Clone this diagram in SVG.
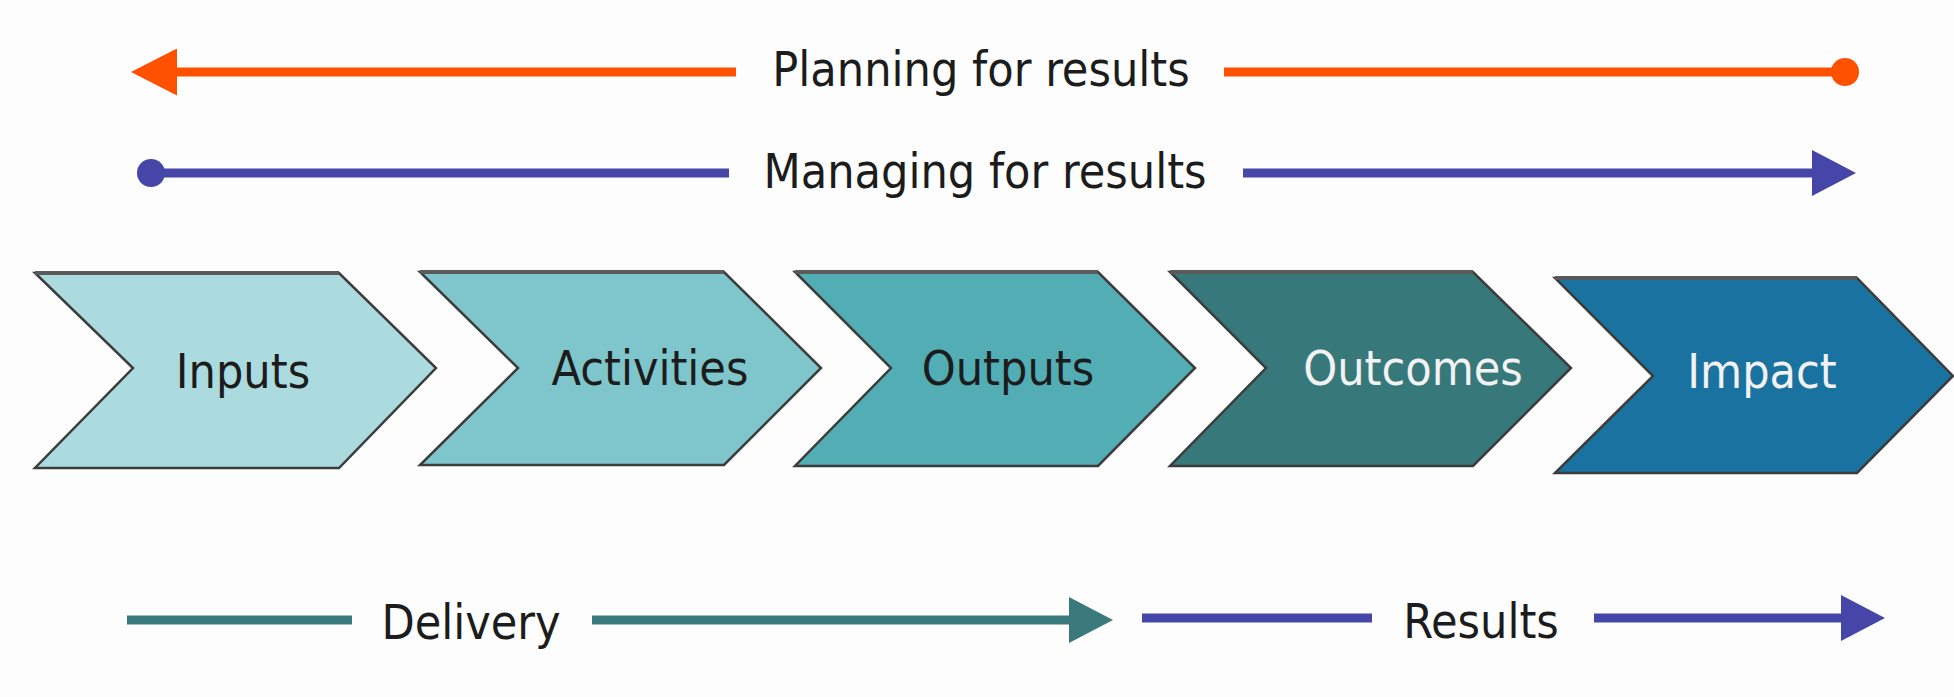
<svg xmlns="http://www.w3.org/2000/svg" width="1954" height="697" viewBox="0 0 1954 697">
<defs>
<style>
.lbl{font-family:"DejaVu Sans Condensed","DejaVu Sans","Liberation Sans",sans-serif;font-stretch:condensed;font-size:48px;text-anchor:middle}
.dark{fill:#1c1c1c}
.light{fill:#f2f2f2}
.chev{stroke:#3c3c3c;stroke-width:2.5;stroke-linejoin:miter}
.edge{stroke:#5a5a5a;stroke-width:4;fill:none}
.ln{fill:none;stroke-width:9}
</style>
<marker id="arOrange" markerUnits="userSpaceOnUse" viewBox="0 0 46 47" refX="0" refY="23.5" markerWidth="46" markerHeight="47" orient="auto"><path d="M0,0 L46,23.5 L0,47 Z" fill="#ff5000"/></marker>
<marker id="arBlue" markerUnits="userSpaceOnUse" viewBox="0 0 44 46" refX="0" refY="23" markerWidth="44" markerHeight="46" orient="auto"><path d="M0,0 L44,23 L0,46 Z" fill="#4646a8"/></marker>
<marker id="arTeal" markerUnits="userSpaceOnUse" viewBox="0 0 44 46" refX="0" refY="23" markerWidth="44" markerHeight="46" orient="auto"><path d="M0,0 L44,23 L0,46 Z" fill="#3a7a7c"/></marker>
<marker id="dotOrange" markerUnits="userSpaceOnUse" viewBox="0 0 28 28" refX="14" refY="14" markerWidth="28" markerHeight="28"><circle cx="14" cy="14" r="14" fill="#ff5000"/></marker>
<marker id="dotBlue" markerUnits="userSpaceOnUse" viewBox="0 0 28 28" refX="14" refY="14" markerWidth="28" markerHeight="28"><circle cx="14" cy="14" r="14" fill="#4646a8"/></marker>
</defs>
<rect width="1954" height="697" fill="#fdfdfd"/>

<g id="connectors">
<path class="ln" stroke="#ff5000" d="M736,72 L177,72" marker-end="url(#arOrange)"/>
<path class="ln" stroke="#ff5000" d="M1224,72 L1845,72" marker-end="url(#dotOrange)"/>
<path class="ln" stroke="#4646a8" d="M151,173 L729,173" marker-start="url(#dotBlue)"/>
<path class="ln" stroke="#4646a8" d="M1243,173 L1812,173" marker-end="url(#arBlue)"/>
<path class="ln" stroke="#3a7a7c" d="M127,620 L352,620"/>
<path class="ln" stroke="#3a7a7c" d="M592,620 L1069,620" marker-end="url(#arTeal)"/>
<path class="ln" stroke="#4646a8" d="M1142,618 L1372,618"/>
<path class="ln" stroke="#4646a8" d="M1594,618 L1841,618" marker-end="url(#arBlue)"/>
</g>

<g id="line-labels">
<text class="lbl dark" x="981" y="86">Planning for results</text>
<text class="lbl dark" x="985" y="188">Managing for results</text>
<text class="lbl dark" x="471" y="639">Delivery</text>
<text class="lbl dark" x="1481" y="638">Results</text>
</g>

<g id="inputs">
<polygon class="chev" fill="#abdbdf" points="35,273 339,273 436,368 339,468 35,468 133,368"/>
<path class="edge" d="M35,273 L339,273"/>
<text class="lbl dark" x="243" y="388">Inputs</text>
</g>
<g id="activities">
<polygon class="chev" fill="#7fc6cc" points="420,272 724,272 821,368 724,465 420,465 518,368"/>
<path class="edge" d="M420,272 L724,272"/>
<text class="lbl dark" x="650" y="385">Activities</text>
</g>
<g id="outputs">
<polygon class="chev" fill="#52adb5" points="795,272 1098,272 1195,368 1098,466 795,466 891,368"/>
<path class="edge" d="M795,272 L1098,272"/>
<text class="lbl dark" x="1008" y="385">Outputs</text>
</g>
<g id="outcomes">
<polygon class="chev" fill="#37787a" points="1170,272 1473,272 1571,368 1473,466 1170,466 1266,368"/>
<path class="edge" d="M1170,272 L1473,272"/>
<text class="lbl light" x="1413" y="385">Outcomes</text>
</g>
<g id="impact">
<polygon class="chev" fill="#1a72a0" points="1555,278 1857,278 1953,376 1857,473 1555,473 1653,376"/>
<path class="edge" d="M1555,278 L1857,278"/>
<text class="lbl light" x="1762" y="388">Impact</text>
</g>
</svg>
